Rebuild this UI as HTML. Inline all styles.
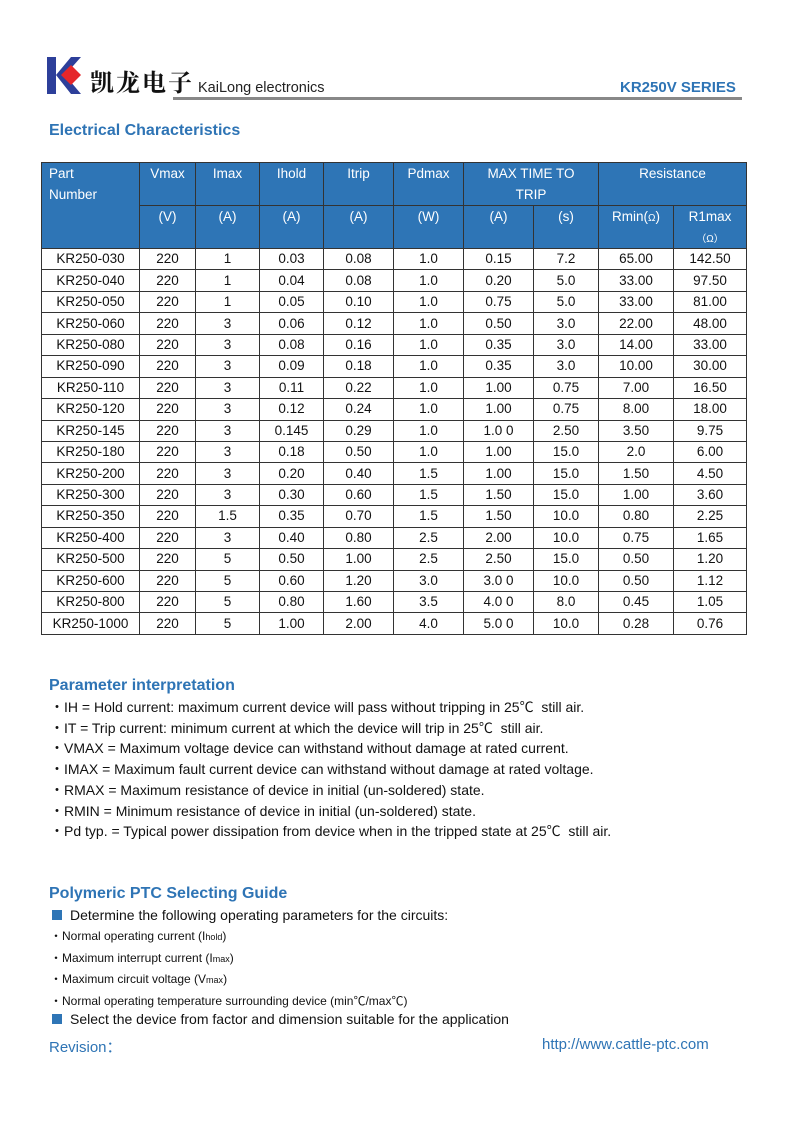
<!DOCTYPE html>
<html><head><meta charset="utf-8"><style>
body{margin:0;width:793px;height:1122px;position:relative;background:#fff;font-family:"Liberation Sans",Arial,"Noto Sans CJK SC",sans-serif;color:#111;overflow:hidden}
.a{position:absolute;white-space:nowrap}
.h{color:#2e74b5;font-weight:bold;font-size:16px}
table{position:absolute;left:41px;top:162px;border-collapse:collapse;table-layout:fixed;font-size:13.5px}
td{border:1px solid #333;text-align:center;padding:0;height:20.44px;line-height:20px}
.hd td{background:#2e75b6;color:#fff;border-color:#333;vertical-align:top;line-height:21px}
.p{font-size:14px;line-height:20.7px}
.s{font-size:12px;line-height:20.7px}
.sq{display:inline-block;width:10px;height:10px;background:#2e75b6;margin:0 8px 0 2px}
sub{font-size:9px;vertical-align:baseline}
</style></head><body>
<svg class="a" style="left:47px;top:57px" width="36" height="37"><rect x="0" y="0" width="9" height="37" fill="#2d3f9a"/><polygon points="9,18 24,0 34,0 18,18 34,37 24,37" fill="#2d3f9a"/><polygon points="14,18 24,8 34,18 24,28" fill="#e5262a"/></svg>
<div class="a" style="left:90px;top:63px;font-size:24px;font-weight:bold;font-family:'Noto Serif CJK SC',serif;letter-spacing:2px">凯龙电子</div>
<div class="a" style="left:198px;top:80px;font-size:14.5px;color:#222">KaiLong electronics</div>
<div class="a" style="left:173px;top:97px;width:569px;height:3px;background:#888"></div>
<div class="a h" style="left:620px;top:79px;font-size:15px">KR250V SERIES</div>
<div class="a h" style="left:49px;top:122px">Electrical Characteristics</div>
<table>
<colgroup><col style="width:98px"><col style="width:56px"><col style="width:64px"><col style="width:64px"><col style="width:70px"><col style="width:70px"><col style="width:70px"><col style="width:65px"><col style="width:75px"><col style="width:73px"></colgroup>
<tr class="hd"><td rowspan="2" style="text-align:left;padding-left:7px;height:84px">Part<br>Number</td><td style="border-bottom:none;height:42px">Vmax</td><td style="border-bottom:none">Imax</td><td style="border-bottom:none">Ihold</td><td style="border-bottom:none">Itrip</td><td style="border-bottom:none">Pdmax</td><td colspan="2">MAX TIME TO<br>TRIP</td><td colspan="2">Resistance</td></tr>
<tr class="hd"><td style="border-top:1px solid #333;height:41px">(V)</td><td>(A)</td><td>(A)</td><td>(A)</td><td>(W)</td><td>(A)</td><td>(s)</td><td>Rmin(<span style="font-size:10px">Ω</span>)</td><td>R1max<br><span style="font-size:10px;line-height:12px">（Ω）</span></td></tr>
<tr><td>KR250-030</td><td>220</td><td>1</td><td>0.03</td><td>0.08</td><td>1.0</td><td>0.15</td><td>7.2</td><td>65.00</td><td>142.50</td></tr>
<tr><td>KR250-040</td><td>220</td><td>1</td><td>0.04</td><td>0.08</td><td>1.0</td><td>0.20</td><td>5.0</td><td>33.00</td><td>97.50</td></tr>
<tr><td>KR250-050</td><td>220</td><td>1</td><td>0.05</td><td>0.10</td><td>1.0</td><td>0.75</td><td>5.0</td><td>33.00</td><td>81.00</td></tr>
<tr><td>KR250-060</td><td>220</td><td>3</td><td>0.06</td><td>0.12</td><td>1.0</td><td>0.50</td><td>3.0</td><td>22.00</td><td>48.00</td></tr>
<tr><td>KR250-080</td><td>220</td><td>3</td><td>0.08</td><td>0.16</td><td>1.0</td><td>0.35</td><td>3.0</td><td>14.00</td><td>33.00</td></tr>
<tr><td>KR250-090</td><td>220</td><td>3</td><td>0.09</td><td>0.18</td><td>1.0</td><td>0.35</td><td>3.0</td><td>10.00</td><td>30.00</td></tr>
<tr><td>KR250-110</td><td>220</td><td>3</td><td>0.11</td><td>0.22</td><td>1.0</td><td>1.00</td><td>0.75</td><td>7.00</td><td>16.50</td></tr>
<tr><td>KR250-120</td><td>220</td><td>3</td><td>0.12</td><td>0.24</td><td>1.0</td><td>1.00</td><td>0.75</td><td>8.00</td><td>18.00</td></tr>
<tr><td>KR250-145</td><td>220</td><td>3</td><td>0.145</td><td>0.29</td><td>1.0</td><td>1.0 0</td><td>2.50</td><td>3.50</td><td>9.75</td></tr>
<tr><td>KR250-180</td><td>220</td><td>3</td><td>0.18</td><td>0.50</td><td>1.0</td><td>1.00</td><td>15.0</td><td>2.0</td><td>6.00</td></tr>
<tr><td>KR250-200</td><td>220</td><td>3</td><td>0.20</td><td>0.40</td><td>1.5</td><td>1.00</td><td>15.0</td><td>1.50</td><td>4.50</td></tr>
<tr><td>KR250-300</td><td>220</td><td>3</td><td>0.30</td><td>0.60</td><td>1.5</td><td>1.50</td><td>15.0</td><td>1.00</td><td>3.60</td></tr>
<tr><td>KR250-350</td><td>220</td><td>1.5</td><td>0.35</td><td>0.70</td><td>1.5</td><td>1.50</td><td>10.0</td><td>0.80</td><td>2.25</td></tr>
<tr><td>KR250-400</td><td>220</td><td>3</td><td>0.40</td><td>0.80</td><td>2.5</td><td>2.00</td><td>10.0</td><td>0.75</td><td>1.65</td></tr>
<tr><td>KR250-500</td><td>220</td><td>5</td><td>0.50</td><td>1.00</td><td>2.5</td><td>2.50</td><td>15.0</td><td>0.50</td><td>1.20</td></tr>
<tr><td>KR250-600</td><td>220</td><td>5</td><td>0.60</td><td>1.20</td><td>3.0</td><td>3.0 0</td><td>10.0</td><td>0.50</td><td>1.12</td></tr>
<tr><td>KR250-800</td><td>220</td><td>5</td><td>0.80</td><td>1.60</td><td>3.5</td><td>4.0 0</td><td>8.0</td><td>0.45</td><td>1.05</td></tr>
<tr><td>KR250-1000</td><td>220</td><td>5</td><td>1.00</td><td>2.00</td><td>4.0</td><td>5.0 0</td><td>10.0</td><td>0.28</td><td>0.76</td></tr>
</table>
<div class="a h" style="left:49px;top:677px">Parameter interpretation</div>
<div class="a p" style="left:50px;top:697px">
・IH = Hold current: maximum current device will pass without tripping in 25℃ &nbsp;still air.<br>
・IT = Trip current: minimum current at which the device will trip in 25℃ &nbsp;still air.<br>
・VMAX = Maximum voltage device can withstand without damage at rated current.<br>
・IMAX = Maximum fault current device can withstand without damage at rated voltage.<br>
・RMAX = Maximum resistance of device in initial (un-soldered) state.<br>
・RMIN = Minimum resistance of device in initial (un-soldered) state.<br>
・Pd typ. = Typical power dissipation from device when in the tripped state at 25℃ &nbsp;still air.</div>
<div class="a h" style="left:49px;top:885px">Polymeric PTC Selecting Guide</div>
<div class="a p" style="left:50px;top:905px"><span class="sq"></span>Determine the following operating parameters for the circuits:</div>
<div class="a s" style="left:50px;top:926px">
・Normal operating current (I<sub>hold</sub>)<br>
・Maximum interrupt current (I<sub>max</sub>)<br>
・Maximum circuit voltage (V<sub>max</sub>)<br>
・Normal operating temperature surrounding device (min℃/max℃)</div>
<div class="a p" style="left:50px;top:1009px"><span class="sq"></span>Select the device from factor and dimension suitable for the application</div>
<div class="a" style="left:49px;top:1036px;font-size:15px;color:#2e74b5">Revision：</div>
<div class="a" style="left:542px;top:1036px;font-size:15px;color:#2e74b5">http://www.cattle-ptc.com</div>
</body></html>
